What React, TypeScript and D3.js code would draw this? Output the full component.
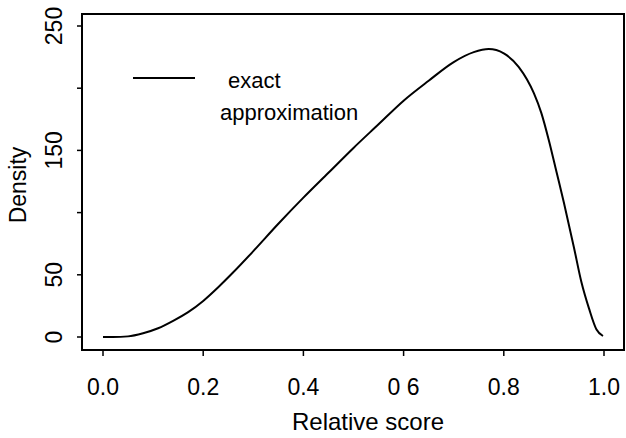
import React from "react";
import * as d3 from "d3";

const scoreX = [0, 0.02, 0.05, 0.08, 0.11, 0.14, 0.17, 0.2, 0.23, 0.26, 0.3, 0.35, 0.4, 0.45, 0.5, 0.55, 0.6, 0.65, 0.7, 0.74, 0.77, 0.8, 0.83, 0.86, 0.875, 0.89, 0.905, 0.92, 0.94, 0.955, 0.97, 0.985, 0.998];
const densityY = [0, 0, 0.5, 3, 7, 13, 20, 29, 40, 52, 69, 91, 112, 132, 152, 171, 190, 206, 221, 229, 231.5, 228, 217, 196, 180, 158, 133, 108, 72, 44, 23, 6, 0.8];
const xTicks = [0, 0.2, 0.4, 0.6, 0.8, 1.0];
const xTickLabels = ["0.0", "0.2", "0.4", "0 6", "0.8", "1.0"];
const yTicks = [0, 50, 100, 150, 200, 250];
const yTickLabels = ["0", "50", "", "150", "", "250"];
const legendLabels = ["exact", "approximation"];

const W = 626;
const H = 438;
const FONT = "'Liberation Sans', Arial, sans-serif";

export default function App() {
  const x = d3.scaleLinear().domain([0, 1]).range([103, 604]);
  const y = d3.scaleLinear().domain([0, 250]).range([337, 26]);
  const pts: [number, number][] = scoreX.map((v, i) => [v, densityY[i]]);
  const line = d3
    .line<[number, number]>()
    .x((d) => x(d[0]))
    .y((d) => y(d[1]))
    .curve(d3.curveMonotoneX);

  const box = { l: 82, t: 14, r: 624, b: 350 };

  return (
    <svg
      width={W}
      height={H}
      style={{ position: "absolute", left: 0, top: 0, background: "#fff" }}
      fontFamily={FONT}
    >
      <rect x={0} y={0} width={W} height={H} fill="#fff" />
      {/* box */}
      <rect
        x={box.l}
        y={box.t}
        width={box.r - box.l}
        height={box.b - box.t}
        fill="none"
        stroke="#000"
        strokeWidth={2}
      />
      {/* y ticks */}
      {yTicks.map((t, i) => (
        <g key={"y" + t}>
          <line x1={box.l - 5} x2={box.l} y1={y(t)} y2={y(t)} stroke="#000" strokeWidth={1.5} />
          {yTickLabels[i] && (
            <text
              transform={`translate(62,${y(t)}) rotate(-90)`}
              textAnchor="middle"
              fontSize={23}
              fill="#000"
            >
              {yTickLabels[i]}
            </text>
          )}
        </g>
      ))}
      {/* x ticks */}
      {xTicks.map((t, i) => (
        <g key={"x" + t}>
          <line x1={x(t)} x2={x(t)} y1={box.b} y2={box.b + 6} stroke="#000" strokeWidth={1.5} />
          <text x={x(t)} y={395} textAnchor="middle" fontSize={23} fill="#000">
            {xTickLabels[i]}
          </text>
        </g>
      ))}
      {/* axis titles */}
      <text x={(box.l + box.r) / 2 + 15} y={430} textAnchor="middle" fontSize={24} fill="#000">
        Relative score
      </text>
      <text
        transform={`translate(26,185) rotate(-90)`}
        textAnchor="middle"
        fontSize={23}
        fill="#000"
      >
        Density
      </text>
      {/* legend */}
      <line x1={133} x2={195} y1={78} y2={78} stroke="#000" strokeWidth={2} />
      <text x={228} y={88} fontSize={22} fill="#000">
        {legendLabels[0]}
      </text>
      <text x={220} y={120} fontSize={22} fill="#000">
        {legendLabels[1]}
      </text>
      {/* curve */}
      <path d={line(pts) || ""} fill="none" stroke="#000" strokeWidth={2} />
    </svg>
  );
}
